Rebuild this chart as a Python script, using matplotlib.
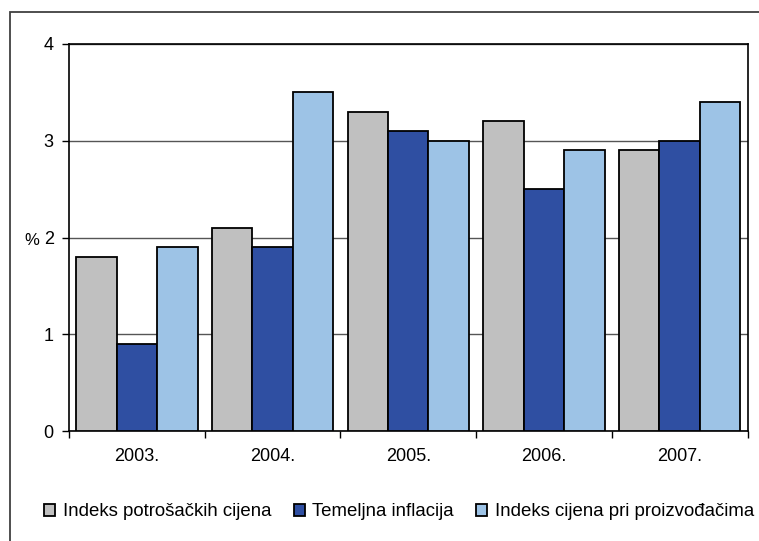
import matplotlib
matplotlib.use("Agg")
import matplotlib.pyplot as plt
import numpy as np
from matplotlib.patches import Rectangle

plt.rcParams['font.family'] = ['Liberation Sans', 'DejaVu Sans']

# podaci
godine = ["2003.", "2004.", "2005.", "2006.", "2007."]
ipc = [1.8, 2.1, 3.3, 3.2, 2.9]
temeljna = [0.9, 1.9, 3.1, 2.5, 3.0]
proizvodjaci = [1.9, 3.5, 3.0, 2.9, 3.4]

serije = [
    ("Indeks potrošačkih cijena", ipc, "#c0c0c0"),
    ("Temeljna inflacija", temeljna, "#2f4fa2"),
    ("Indeks cijena pri proizvođačima", proizvodjaci, "#9dc3e6"),
]

W, H = 759, 541
fig = plt.figure(figsize=(W / 100, H / 100), dpi=100)
ax = fig.add_axes([69 / W, 1 - 431 / H, (747.5 - 69) / W, (431 - 44) / H])

# okvir oko cijelog grafikona (desni i donji rub izvan slike)
fig.patches.append(Rectangle((9.5 / W, -0.1), 2, 1 - 11.5 / H + 0.1,
                             transform=fig.transFigure, fill=False,
                             edgecolor="#404040", linewidth=1.3))

x = np.arange(len(godine))
w = 0.298
for i, (naziv, vrijednosti, boja) in enumerate(serije):
    ax.bar(x + (i - 1) * w, vrijednosti, w, color=boja, edgecolor="black",
           linewidth=1.3, label=naziv, zorder=3)

ax.set_xlim(-0.5, len(godine) - 0.5)
ax.set_ylim(0, 4)
ax.set_yticks([0, 1, 2, 3, 4])
ax.set_yticklabels(["0", "1", "2", "3", "4"])
ax.yaxis.grid(True, color="#555555", linewidth=1, zorder=0)

ax.set_xticks(x)
ax.set_xticklabels(godine)
ax.set_xticks(np.arange(-0.5, len(godine)), minor=True)
ax.tick_params(axis="x", which="major", length=0, pad=12, labelsize=13)
ax.tick_params(axis="x", which="minor", length=5, direction="out", width=1)
ax.tick_params(axis="y", length=5, direction="out", width=1, labelsize=13, pad=6)

for s in ax.spines.values():
    s.set_color("black")
    s.set_linewidth(1.2)

fig.text(24 / W, 1 - 240 / H, "%", fontsize=12, ha="left", va="center")

fig.legend(loc="center", bbox_to_anchor=(399 / W, 1 - 512 / H), ncol=3,
           frameon=False, fontsize=13.4, handlelength=0.6, handleheight=0.6,
           handletextpad=0.4, columnspacing=1.2, borderpad=0)

fig.savefig("out.png", dpi=100)
